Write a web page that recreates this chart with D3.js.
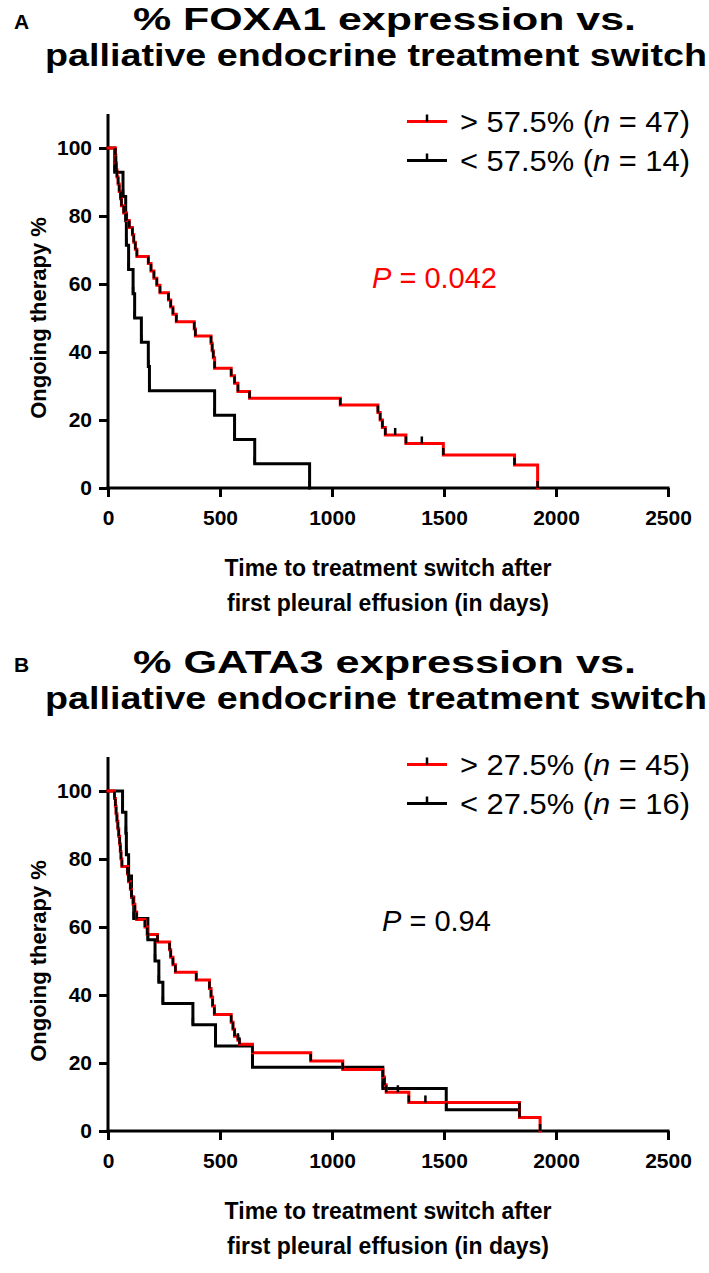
<!DOCTYPE html>
<html>
<head>
<meta charset="utf-8">
<script src="https://cdn.jsdelivr.net/npm/d3@7"></script>
<style>
  html, body { margin: 0; padding: 0; background: #fff; }
  svg { display: block; }
  text { font-family: "Liberation Sans", Arial, sans-serif; }
</style>
</head>
<body>
<div id="chart"></div>
<script>
// ---------------- DATA ----------------
const xTickValues = [0, 500, 1000, 1500, 2000, 2500];
const yTickValues = [0, 20, 40, 60, 80, 100];

// Panel A: FOXA1
const foxaHighTimes = [33,35,37,40,45,50,56,60,70,83,95,109,115,122,129,180,192,205,218,232,270,280,290,305,385,390,460,465,470,476,550,565,580,632,1037,1205,1215,1225,1238,1330,1497,1815,1918];
const foxaHighSurv  = [97.9,95.7,93.6,91.5,89.4,87.2,85.1,83.0,80.9,78.7,76.6,74.5,72.3,70.2,68.1,66.0,63.8,61.7,59.6,57.4,55.3,53.2,51.1,48.9,46.8,44.7,42.6,40.4,38.3,35.2,33.0,30.8,28.4,26.4,24.4,22.2,20.0,17.8,15.6,13.1,9.7,6.8,0];
const foxaHighCensorTimes = [1282, 1401];
const foxaHighCensorSurv  = [15.6, 13.1];
const foxaLowTimes = [30,67,79,82,92,112,119,149,180,185,476,565,655,900];
const foxaLowSurv  = [92.9,85.7,78.6,71.4,64.3,57.1,50.0,42.9,35.7,28.6,21.4,14.3,7.1,0];
const foxaLowCensorTimes = [];
const foxaLowCensorSurv  = [];

// Panel B: GATA3
const gataHighTimes = [29,33,36,40,44,48,52,55,58,62,87,92,100,105,112,120,128,165,175,221,275,280,290,301,394,453,460,467,475,550,558,565,580,587,645,905,1048,1227,1234,1242,1343,1837,1929];
const gataHighSurv  = [97.8,95.6,93.3,91.1,88.9,86.7,84.4,82.2,80.0,77.8,75.6,73.3,71.1,68.9,66.7,64.4,62.2,60.0,57.8,55.6,53.3,51.1,48.9,46.7,44.4,41.9,39.4,36.8,34.3,32.0,29.9,27.9,26.7,25.5,23.0,20.6,18.1,15.9,13.6,11.4,8.4,4.0,0];
const gataHighCensorTimes = [1294, 1417];
const gataHighCensorSurv  = [11.4, 8.4];
const gataLowTimes = [65,80,82,92,105,115,178,210,227,245,379,480,645,1227,1510];
const gataLowSurv  = [93.75,87.5,81.25,75.0,68.75,62.5,56.25,50.0,43.75,37.5,31.25,25.0,18.75,12.5,6.25];
const gataLowCensorTimes = [1837];
const gataLowCensorSurv  = [6.25];

const panels = [
  {
    letter: "A",
    title1: "% FOXA1 expression vs.",
    title2: "palliative endocrine treatment switch",
    pText: "0.042", pColor: "#ff0000", pX: 372, pLen: 128,
    high: { label: "> 57.5% (", n: "47", times: foxaHighTimes, surv: foxaHighSurv, cT: foxaHighCensorTimes, cS: foxaHighCensorSurv },
    low:  { label: "< 57.5% (", n: "14", times: foxaLowTimes, surv: foxaLowSurv, cT: foxaLowCensorTimes, cS: foxaLowCensorSurv }
  },
  {
    letter: "B",
    title1: "% GATA3 expression vs.",
    title2: "palliative endocrine treatment switch",
    pText: "0.94", pColor: "#000000", pX: 382, pLen: 100,
    high: { label: "> 27.5% (", n: "45", times: gataHighTimes, surv: gataHighSurv, cT: gataHighCensorTimes, cS: gataHighCensorSurv },
    low:  { label: "< 27.5% (", n: "16", times: gataLowTimes, surv: gataLowSurv, cT: gataLowCensorTimes, cS: gataLowCensorSurv }
  }
];

// ---------------- DRAW ----------------
const W = 709, H = 1273;
const RED = "#ff0000", BLACK = "#000000";
const svg = d3.select("#chart").append("svg").attr("width", W).attr("height", H);

const x = d3.scaleLinear().domain([0, 2500]).range([108, 668]);
const y = d3.scaleLinear().domain([0, 100]).range([488, 148]);

function stepPoints(s) {
  const pts = [[0, 100]];
  s.times.forEach((t, i) => pts.push([t, s.surv[i]]));
  const last = pts[pts.length - 1];
  const lastC = s.cT.length ? d3.max(s.cT) : null;
  if (lastC !== null && lastC > last[0]) pts.push([lastC, last[1]]);
  return pts;
}

panels.forEach((p, pi) => {
  const g = svg.append("g").attr("transform", `translate(0,${pi * 643})`);

  g.append("text").attr("x", 14).attr("y", 29)
    .attr("font-size", 21).attr("font-weight", "bold").text(p.letter);
  g.append("text").attr("x", 133).attr("y", 30)
    .attr("textLength", 503).attr("lengthAdjust", "spacingAndGlyphs")
    .attr("font-size", 32).attr("font-weight", "bold").text(p.title1);
  g.append("text").attr("x", 45).attr("y", 66)
    .attr("textLength", 662).attr("lengthAdjust", "spacingAndGlyphs")
    .attr("font-size", 32).attr("font-weight", "bold").text(p.title2);

  // axes
  const xAxis = d3.axisBottom(x).tickValues(xTickValues).tickSize(9).tickPadding(7).tickFormat(d3.format("d"));
  const yAxis = d3.axisLeft(y).tickValues(yTickValues).tickSize(9).tickPadding(7).tickFormat(d3.format("d"));
  const gx = g.append("g").attr("transform", "translate(0,488)").call(xAxis);
  const gy = g.append("g").attr("transform", "translate(108,0)").call(yAxis);
  [gx, gy].forEach(ax => {
    ax.select(".domain").remove();
    ax.selectAll(".tick line").attr("stroke", BLACK).attr("stroke-width", 3);
    ax.selectAll(".tick text").attr("font-size", 21).attr("font-weight", "bold")
      .attr("fill", BLACK).style("font-family", '"Liberation Sans", Arial, sans-serif');
  });
  gx.selectAll(".tick text").attr("dy", "1em");
  // axis lines (y extends to 110%)
  g.append("line").attr("x1", x(0)).attr("x2", x(0)).attr("y1", y(110)).attr("y2", y(0) + 1.5)
    .attr("stroke", BLACK).attr("stroke-width", 3);
  g.append("line").attr("x1", x(0) - 1.5).attr("x2", x(2500) + 1.5).attr("y1", y(0)).attr("y2", y(0))
    .attr("stroke", BLACK).attr("stroke-width", 3);

  // axis titles
  g.append("text").attr("x", 388).attr("y", 576).attr("text-anchor", "middle")
    .attr("font-size", 23).attr("font-weight", "bold").text("Time to treatment switch after");
  g.append("text").attr("x", 388).attr("y", 611).attr("text-anchor", "middle")
    .attr("font-size", 23).attr("font-weight", "bold").text("first pleural effusion (in days)");
  g.append("text").attr("transform", "translate(46,318) rotate(-90)").attr("text-anchor", "middle")
    .attr("font-size", 22).attr("font-weight", "bold").text("Ongoing therapy %");

  // curves
  const line = d3.line().x(d => x(d[0])).y(d => y(d[1])).curve(d3.curveStepAfter);
  const series = [[p.low, BLACK], [p.high, RED]];
  series.forEach(([s, col]) => {
    g.append("path").datum(stepPoints(s)).attr("d", line)
      .attr("fill", "none").attr("stroke", col).attr("stroke-width", 3)
      .attr("stroke-linejoin", "miter").attr("stroke-linecap", "square");
  });
  // tick symbols at every data point (events and censored)
  series.forEach(([s, col]) => {
    const pts = s.times.map((t, i) => [t, s.surv[i]]).concat(s.cT.map((t, i) => [t, s.cS[i]]));
    g.append("g").selectAll("line").data(pts).join("line")
      .attr("x1", d => x(d[0])).attr("x2", d => x(d[0]))
      .attr("y1", d => y(d[1])).attr("y2", d => y(d[1]) - 7)
      .attr("stroke", BLACK).attr("stroke-width", 2.5);
  });

  // legend
  const legend = [[p.high, RED, 121.5], [p.low, BLACK, 160.5]];
  legend.forEach(([s, col, ly]) => {
    g.append("line").attr("x1", 407).attr("x2", 447).attr("y1", ly).attr("y2", ly)
      .attr("stroke", col).attr("stroke-width", 3);
    g.append("line").attr("x1", 427).attr("x2", 427).attr("y1", ly).attr("y2", ly - 7)
      .attr("stroke", BLACK).attr("stroke-width", 2.5);
    const t = g.append("text").attr("x", 460).attr("y", ly + 10).attr("font-size", 29)
      .attr("textLength", 230).attr("lengthAdjust", "spacingAndGlyphs");
    t.append("tspan").text(s.label);
    t.append("tspan").attr("font-style", "italic").text("n");
    t.append("tspan").text(" = " + s.n + ")");
  });

  // P value
  const pt = g.append("text").attr("x", p.pX).attr("y", 288).attr("font-size", 29).attr("fill", p.pColor);
  pt.append("tspan").attr("font-style", "italic").text("P");
  pt.append("tspan").text(" = " + p.pText);
});
</script>
</body>
</html>
